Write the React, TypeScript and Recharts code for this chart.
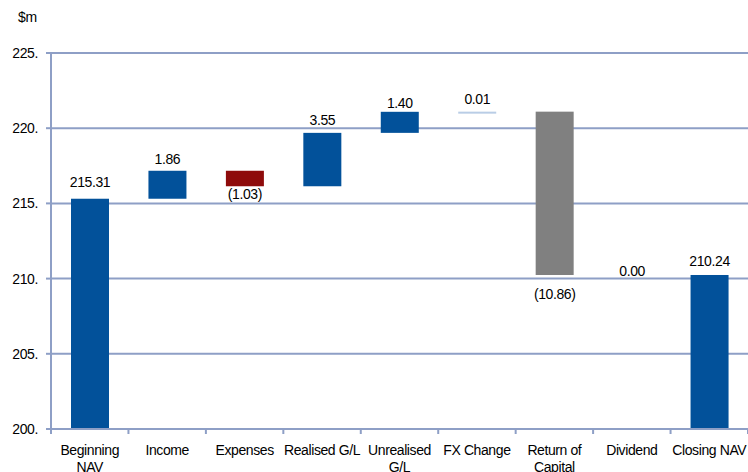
import React from 'react'
import { ComposedChart, Bar, XAxis, YAxis, CartesianGrid, LabelList, Cell } from 'recharts'

const categories = ['Beginning\nNAV', 'Income', 'Expenses', 'Realised G/L', 'Unrealised\nG/L', 'FX Change', 'Return of\nCapital', 'Dividend', 'Closing NAV']
const changes = [215.31, 1.86, -1.03, 3.55, 1.40, 0.01, -10.86, 0.00, 210.24]
const kinds = ['total', 'step', 'step', 'step', 'step', 'step', 'step', 'step', 'total']
const yTicks = [200, 205, 210, 215, 220, 225]

// label distance from the bar edge, as Excel placed them
const labelGap = [12, 7, 13, 8, 4, 8, 24, -1, 9]

const BLUE = '#02519A'
const RED = '#8E0B0B'
const GREY = '#808080'
const PALE = '#B9CDE6'
const GRID = '#8E9FC6'

const W = 748
const H = 472
const PLOT_LEFT = 51
const BAND = (W - PLOT_LEFT) / categories.length
const TEXT = { fontSize: 14, letterSpacing: -0.4, fill: '#000' }

// running totals -> floating ranges
let running = 0
const data = categories.map((name, i) => {
  const v = changes[i]
  let range: [number, number]
  if (kinds[i] === 'total') {
    range = [0, v]
    running = v
  } else {
    const next = running + v
    range = [Math.min(running, next), Math.max(running, next)]
    running = next
  }
  return { name, range, change: v }
})

function barColor(i: number) {
  const v = changes[i]
  if (kinds[i] === 'total') return BLUE
  if (categories[i] === 'Return of\nCapital') return GREY
  if (Math.abs(v) < 0.05) return PALE
  return v < 0 ? RED : BLUE
}

function fmt(v: number) {
  const s = Math.abs(v).toFixed(2)
  return v < 0 ? `(${s})` : s
}

function BarShape(props: any) {
  const { x, y, width, height, fill, index } = props
  if (changes[index] === 0) return null
  const h = Math.max(Math.abs(height), 2)
  const top = height < 0 ? y + height : y
  return <rect x={x} y={top} width={width} height={h} fill={fill} />
}

function ValueLabel(props: any) {
  const { x, y, width, height, index } = props
  const v = changes[index]
  const top = Math.min(y, y + height)
  const bottom = Math.max(y, y + height)
  const cx = x + width / 2
  const ty = v < 0 ? bottom + labelGap[index] : top - labelGap[index]
  return (
    <text x={cx} y={ty} textAnchor="middle" {...TEXT}>
      {fmt(v)}
    </text>
  )
}

function CategoryTick(props: any) {
  const { x, y, payload, index } = props
  const lines = String(payload.value).split('\n')
  const left = x - BAND / 2
  return (
    <g>
      <line x1={left} y1={y - 8} x2={left} y2={y - 3} stroke={GRID} strokeWidth={2} />
      {index === categories.length - 1 && (
        <line x1={x + BAND / 2} y1={y - 8} x2={x + BAND / 2} y2={y - 3} stroke={GRID} strokeWidth={2} />
      )}
      {lines.map((l, i) => (
        <text key={i} x={x} y={y + 18 + i * 17} textAnchor="middle" {...TEXT}>
          {l}
        </text>
      ))}
    </g>
  )
}

export default function App() {
  return (
    <div style={{ position: 'fixed', left: 0, top: 0, width: W, height: H, background: '#fff', fontFamily: '"Liberation Sans", Arial, sans-serif' }}>
      <div style={{ position: 'absolute', left: 18, top: 9, fontSize: 14, letterSpacing: -0.4, color: '#000' }}>$m</div>
      <ComposedChart width={W} height={H} data={data} margin={{ top: 53, right: 0, bottom: 0, left: 0 }}>
        <CartesianGrid vertical={false} stroke={GRID} strokeWidth={2} />
        <XAxis
          dataKey="name"
          interval={0}
          height={43}
          axisLine={{ stroke: GRID, strokeWidth: 2 }}
          tickLine={false}
          tick={<CategoryTick />}
        />
        <YAxis
          width={PLOT_LEFT}
          domain={[200, 225]}
          ticks={yTicks}
          allowDataOverflow
          tickFormatter={(v: number) => `${v}.`}
          tick={TEXT}
          tickSize={5}
          tickMargin={8}
          tickLine={{ stroke: GRID, strokeWidth: 2 }}
          axisLine={{ stroke: GRID, strokeWidth: 2 }}
        />
        <Bar dataKey="range" barSize={38} isAnimationActive={false} shape={<BarShape />}>
          {data.map((d, i) => (
            <Cell key={i} fill={barColor(i)} />
          ))}
          <LabelList dataKey="range" content={<ValueLabel />} />
        </Bar>
      </ComposedChart>
    </div>
  )
}
